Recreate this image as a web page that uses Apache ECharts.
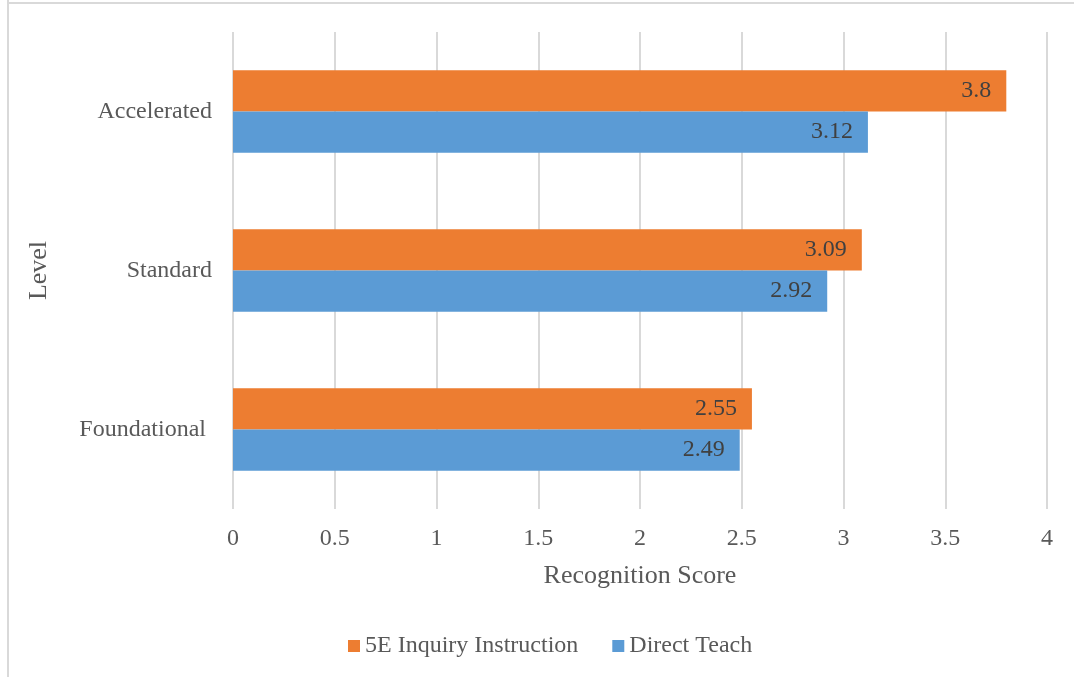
<!DOCTYPE html>
<html>
<head>
<meta charset="utf-8">
<script src="https://cdn.jsdelivr.net/npm/echarts@6/dist/echarts.min.js"></script>
<style>html,body{margin:0;padding:0;background:#fff;}#c{width:1074px;height:677px;}</style>
</head>
<body>
<div id="c"></div>
<script>
const categories = ['Foundational ', 'Standard', 'Accelerated'];
const inquiry = [2.55, 3.09, 3.8];
const direct = [2.49, 2.92, 3.12];
const xTicks = [0, 0.5, 1, 1.5, 2, 2.5, 3, 3.5, 4];

const font = 'Liberation Serif, Times New Roman, serif';
const chart = echarts.init(document.getElementById('c'));
const labelStyle = {
  show: true, position: 'insideRight', distance: 15,
  color: '#404040', fontSize: 24, fontFamily: font
};
chart.setOption({
  animation: false,
  backgroundColor: '#fff',
  textStyle: { fontFamily: font },
  graphic: [
    { type: 'line', shape: { x1: 8, y1: 0, x2: 8, y2: 677 }, style: { stroke: '#d9d9d9', lineWidth: 2 } },
    { type: 'line', shape: { x1: 7, y1: 3, x2: 1074, y2: 3 }, style: { stroke: '#d9d9d9', lineWidth: 2 } }
  ],
  grid: { left: 233, right: 27, top: 32, bottom: 168 },
  legend: {
    data: ['5E Inquiry Instruction', 'Direct Teach'],
    bottom: 14, left: 343,
    itemWidth: 12, itemHeight: 12, itemGap: 34,
    icon: 'rect',
    textStyle: { color: '#595959', fontSize: 24, fontFamily: font }
  },
  xAxis: {
    type: 'value', min: 0, max: 4, interval: 0.5,
    name: 'Recognition Score', nameLocation: 'middle', nameGap: 54,
    nameTextStyle: { color: '#595959', fontSize: 26, fontFamily: font },
    axisLine: { show: false }, axisTick: { show: false },
    axisLabel: { color: '#595959', fontSize: 24, fontFamily: font, margin: 18,
      formatter: v => String(v) },
    splitLine: { show: true, lineStyle: { color: '#d9d9d9', width: 2 } }
  },
  yAxis: {
    type: 'category', data: categories,
    name: 'Level', nameLocation: 'middle', nameGap: 181, nameRotate: 90,
    nameTextStyle: { color: '#595959', fontSize: 26, fontFamily: font },
    axisLine: { show: false }, axisTick: { show: false },
    axisLabel: { color: '#595959', fontSize: 24, fontFamily: font, margin: 21 }
  },
  series: [
    { name: '5E Inquiry Instruction', type: 'bar', data: inquiry, barGap: '0%', barCategoryGap: '48%',
      itemStyle: { color: '#ED7D31' }, label: labelStyle },
    { name: 'Direct Teach', type: 'bar', data: direct, barGap: '0%', barCategoryGap: '48%',
      itemStyle: { color: '#5B9BD5' }, label: labelStyle }
  ]
});
</script>
</body>
</html>
